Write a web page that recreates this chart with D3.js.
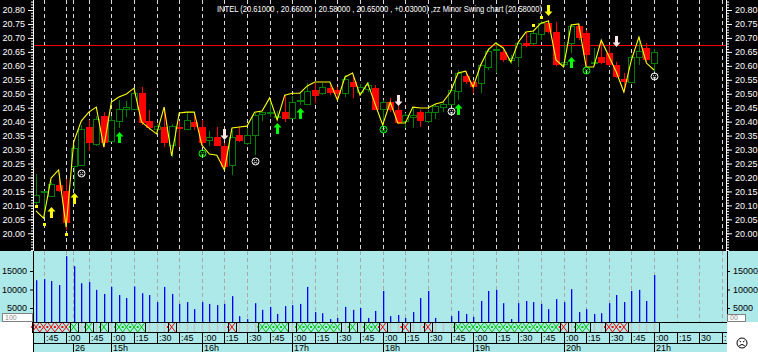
<!DOCTYPE html>
<html lang="en">
<head>
<meta charset="UTF-8">
<title>INTEL zz Minor Swing chart</title>
<script src="https://cdn.jsdelivr.net/npm/d3@7"></script>
<style>
  body { margin: 0; background: #fff; }
  svg { display: block; font-family: "Liberation Sans", Arial, sans-serif; }
</style>
</head>
<body>
<div id="chart"></div>
<script>
// ---- data (5 minute bars) ----
const opens = [20.113,20.148,20.133,20.173,20.151,20.241,20.244,20.381,20.320,20.420,
  20.330,20.402,20.445,20.445,20.502,20.402,20.373,20.381,20.316,20.381,
  20.373,20.399,20.381,20.334,20.345,20.312,20.244,20.352,20.323,20.352,
  20.427,20.431,20.416,20.434,20.413,20.473,20.463,20.513,20.502,20.520,
  20.513,20.502,20.542,20.506,20.517,20.520,20.445,20.470,20.442,20.402,
  20.416,20.434,20.402,20.434,20.452,20.463,20.509,20.563,20.542,20.538,
  20.596,20.657,20.649,20.621,20.632,20.682,20.682,20.714,20.753,20.721,
  20.606,20.682,20.743,20.718,20.610,20.632,20.646,20.603,20.553,20.542,
  20.632,20.664,20.61];
const highs = [20.212,20.150,20.183,20.216,20.194,20.316,20.388,20.406,20.420,20.434,
  20.420,20.477,20.474,20.520,20.524,20.442,20.391,20.452,20.391,20.402,
  20.434,20.431,20.406,20.366,20.381,20.323,20.370,20.381,20.377,20.431,
  20.434,20.481,20.438,20.495,20.492,20.502,20.538,20.538,20.538,20.531,
  20.524,20.567,20.560,20.535,20.542,20.531,20.477,20.485,20.456,20.431,
  20.452,20.442,20.442,20.463,20.470,20.520,20.585,20.581,20.549,20.610,
  20.664,20.685,20.657,20.639,20.685,20.721,20.725,20.761,20.764,20.757,
  20.685,20.750,20.750,20.728,20.664,20.692,20.675,20.614,20.574,20.639,
  20.703,20.682,20.66];
const lows = [20.101,20.058,20.130,20.149,20.012,20.155,20.241,20.295,20.313,20.309,
  20.330,20.377,20.416,20.442,20.388,20.370,20.366,20.309,20.273,20.309,
  20.370,20.370,20.312,20.312,20.312,20.227,20.209,20.327,20.316,20.280,
  20.402,20.416,20.406,20.399,20.413,20.459,20.459,20.466,20.495,20.495,
  20.477,20.488,20.484,20.495,20.506,20.442,20.388,20.434,20.391,20.377,
  20.377,20.381,20.395,20.409,20.434,20.459,20.477,20.535,20.502,20.502,
  20.585,20.574,20.614,20.606,20.596,20.667,20.675,20.692,20.718,20.599,
  20.596,20.646,20.692,20.596,20.603,20.606,20.599,20.556,20.506,20.538,
  20.603,20.614,20.58];
const closes = [20.137,20.150,20.176,20.151,20.037,20.305,20.373,20.323,20.409,20.323,
  20.406,20.445,20.452,20.502,20.395,20.377,20.384,20.323,20.384,20.373,
  20.406,20.381,20.323,20.345,20.312,20.237,20.345,20.331,20.352,20.424,
  20.434,20.434,20.420,20.409,20.470,20.477,20.509,20.492,20.524,20.502,
  20.499,20.553,20.524,20.524,20.531,20.442,20.470,20.442,20.395,20.424,
  20.424,20.402,20.434,20.456,20.463,20.513,20.574,20.542,20.524,20.603,
  20.653,20.660,20.621,20.628,20.682,20.671,20.718,20.753,20.721,20.603,
  20.614,20.743,20.700,20.639,20.614,20.610,20.603,20.560,20.542,20.632,
  20.653,20.621,20.65];
const volumes = [12500,12800,12300,11200,19000,16300,11700,12000,9900,8800,
  10700,8500,7700,10800,9000,8500,6600,10700,8800,6100,
  6600,4700,6600,6100,5800,6100,8200,2800,2000,6300,
  4500,5300,3400,5500,5800,6100,10700,3900,3600,2000,
  2300,5300,4500,5000,2300,4200,9600,2800,3100,2300,
  3900,7700,9600,2300,0,2800,4200,3400,2600,6900,
  9600,9900,6300,2000,6300,6900,6600,6100,4700,7400,
  6600,10100,3900,4700,3400,3600,6300,8500,6600,9600,
  9900,6900,13900];
// zz minor swing line, one value per bar
const zigzag = [20.080,20.054,20.198,20.227,20.022,20.327,20.402,20.434,20.452,20.309,
  20.470,20.488,20.499,20.520,20.399,20.377,20.356,20.452,20.277,20.431,
  20.434,20.434,20.316,20.284,20.280,20.227,20.377,20.381,20.384,20.434,
  20.438,20.485,20.406,20.495,20.502,20.502,20.528,20.542,20.542,20.542,
  20.477,20.560,20.574,20.495,20.538,20.463,20.388,20.470,20.395,20.395,
  20.452,20.449,20.449,20.463,20.470,20.506,20.574,20.581,20.524,20.603,
  20.657,20.682,20.664,20.614,20.685,20.721,20.725,20.753,20.761,20.621,
  20.596,20.746,20.750,20.596,20.596,20.692,20.635,20.578,20.506,20.621,
  20.703,20.610,20.585];
const refLevel = 20.675;

// markers: [bar, price]
const swingDots = [[0, 20.097], [1, 20.033], [4, 19.997], [66, 20.746], [67, 20.775]];
const yellowUp = [[2, 20.094], [5, 20.144]];
const greenUp = [[11, 20.363], [32, 20.395], [35, 20.449], [56, 20.463], [71, 20.632]];
const yellowDown = [[68, 20.779]];
const whiteDown = [[25, 20.334], [48, 20.456], [77, 20.667]];
const whiteFaces = [[6, 20.216], [29, 20.259], [55, 20.438], [82, 20.563]];
const greenFaces = [[22, 20.287], [46, 20.373], [73, 20.585]];

// pattern strip: [first bar, last bar, colour]
const stripGroups = [[0,4,"r"],[5,5,"g"],[7,7,"g"],[9,9,"g"],[11,14,"g"],[18,18,"r"],[26,26,"r"],
  [30,33,"g"],[35,40,"g"],[42,42,"g"],[44,45,"g"],[46,46,"r"],[49,49,"r"],[52,52,"r"],
  [56,69,"g"],[70,70,"r"],[72,73,"g"],[76,78,"r"]];

const priceTicks = [20.00,20.05,20.10,20.15,20.20,20.25,20.30,20.35,20.40,20.45,20.50,20.55,20.60,20.65,20.70,20.75,20.80];
const volTicks = [5000, 10000, 15000];
const timeLabels = [":45",":00",":45",":00",":15",":30",":45",":00",":15",":30",":45",":00",":15",":30",":45",
  ":00",":15",":30",":45",":00",":15",":30",":45",":00",":15",":30",":45",":00",":15","30",":"];
const dayLabels = ["26","15h","16h","17h","18h","19h","20h","21h"];
const dayBars = [4.9, 10, 22, 34, 46, 58, 70, 82];
const title = "INTEL (20.61000 , 20.66000 , 20.58000 , 20.65000 , +0.03000) ,zz Minor Swing chart (20.58000)";

// ---- layout ----
const width = 758, height = 352;
const X0 = 33, X1 = 726, MAIN_B = 251, VOL_B = 322, STRIP_B = 332, ROW_B = 343;
const CYAN = "#aee9e9";

const x = d3.scaleLinear().domain([0, 82]).range([36, 654]);
const y = d3.scaleLinear().domain([20.0, 20.8]).range([233.3, 10]);
const yv = d3.scaleLinear().domain([0, 15000]).range([326.5, 271]);
const bw = x(1) - x(0);
const timeBars = d3.range(1, 92, 3);
const gridBars = timeBars.concat([dayBars[0]]);

const bars = opens.map((o, i) => ({i, o, h: highs[i], l: lows[i], c: closes[i], v: volumes[i]}));

const svg = d3.select("#chart").append("svg")
    .attr("width", width)
    .attr("height", height)
    .attr("viewBox", [0, 0, width, height]);

const defs = svg.append("defs");
defs.append("clipPath").attr("id", "clipMain")
    .append("rect").attr("x", X0 + 1).attr("y", 0).attr("width", X1 - X0 - 1).attr("height", MAIN_B);
defs.append("clipPath").attr("id", "clipVol")
    .append("rect").attr("x", X0 + 1).attr("y", MAIN_B).attr("width", X1 - X0).attr("height", VOL_B - MAIN_B);

// backgrounds
svg.append("rect").attr("width", width).attr("height", MAIN_B).attr("fill", "#000");
svg.append("rect").attr("y", MAIN_B).attr("width", width).attr("height", VOL_B - MAIN_B).attr("fill", CYAN);
svg.append("rect").attr("x", X0).attr("y", VOL_B).attr("width", X1 + 1 - X0).attr("height", height - VOL_B).attr("fill", CYAN);
svg.append("rect").attr("x", 0).attr("y", VOL_B).attr("width", X0).attr("height", height - VOL_B).attr("fill", "#fff");
svg.append("rect").attr("x", X1 + 1).attr("y", VOL_B).attr("width", width - X1 - 1).attr("height", height - VOL_B).attr("fill", "#fff");

// grid
svg.append("g")
    .selectAll("line")
    .data(gridBars)
    .join("line")
    .attr("x1", d => Math.round(x(d)) + 0.5).attr("x2", d => Math.round(x(d)) + 0.5)
    .attr("y1", 0).attr("y2", MAIN_B)
    .attr("stroke", "#d8d8d8").attr("stroke-dasharray", "4,3");
svg.append("g")
    .selectAll("line")
    .data(gridBars)
    .join("line")
    .attr("x1", d => Math.round(x(d)) + 0.5).attr("x2", d => Math.round(x(d)) + 0.5)
    .attr("y1", MAIN_B).attr("y2", VOL_B)
    .attr("stroke", "#a9a9a9").attr("stroke-dasharray", "4,3");

// reference level
svg.append("line")
    .attr("x1", X0).attr("x2", X1)
    .attr("y1", Math.round(y(refLevel)) + 0.5).attr("y2", Math.round(y(refLevel)) + 0.5)
    .attr("stroke", "#ff0000");

// candles
const main = svg.append("g").attr("clip-path", "url(#clipMain)");
const candle = main.append("g")
    .selectAll("g")
    .data(bars)
    .join("g");
candle.append("line")
    .attr("x1", d => Math.round(x(d.i)) + 0.5).attr("x2", d => Math.round(x(d.i)) + 0.5)
    .attr("y1", d => y(d.h)).attr("y2", d => y(d.l))
    .attr("stroke", d => d.c >= d.o ? "#008000" : "#ff0000");
candle.filter(d => d.c < d.o).append("rect")
    .attr("x", d => Math.round(x(d.i)) - 3)
    .attr("width", 7)
    .attr("y", d => Math.round(y(d.o)))
    .attr("height", d => Math.max(1, Math.round(y(d.c)) - Math.round(y(d.o))))
    .attr("fill", "#ff0000");
candle.filter(d => d.c >= d.o).append("rect")
    .attr("x", d => Math.round(x(d.i)) - 2.5)
    .attr("width", 6)
    .attr("y", d => Math.round(y(d.c)) + 0.5)
    .attr("height", d => Math.max(1, Math.round(y(d.o)) - Math.round(y(d.c))))
    .attr("fill", "#000")
    .attr("stroke", "#008000");

// swing line
main.append("path")
    .datum(zigzag)
    .attr("fill", "none")
    .attr("stroke", "#ffff00")
    .attr("stroke-width", 1.1)
    .attr("d", d3.line().x((d, i) => x(i)).y(d => y(d)));

// markers
const marks = main.append("g");
marks.selectAll(".dot")
    .data(swingDots)
    .join("rect")
    .attr("x", d => Math.round(x(d[0])) - 1)
    .attr("y", d => Math.round(y(d[1])) - 1)
    .attr("width", 3).attr("height", 3)
    .attr("fill", "#ffff00");

function arrowPath(cx, ty, dir) {
    const s = dir;       // 1 = up (tip on top), -1 = down
    return `M${cx},${ty}L${cx + 4},${ty + 4.5 * s}L${cx + 1.5},${ty + 4.5 * s}L${cx + 1.5},${ty + 11 * s}` +
        `L${cx - 1.5},${ty + 11 * s}L${cx - 1.5},${ty + 4.5 * s}L${cx - 4},${ty + 4.5 * s}Z`;
}
[[yellowUp, 1, "#ffff00"], [greenUp, 1, "#00ff00"], [yellowDown, -1, "#ffff00"], [whiteDown, -1, "#ffe6e6"]]
    .forEach(([list, dir, col]) => {
        marks.append("g")
            .selectAll("path")
            .data(list)
            .join("path")
            .attr("d", d => arrowPath(Math.round(x(d[0])) + 0.5, Math.round(y(d[1])), dir))
            .attr("fill", col);
    });

function drawFaces(list, col) {
    const f = marks.append("g")
        .selectAll("g")
        .data(list)
        .join("g")
        .attr("transform", d => `translate(${Math.round(x(d[0])) + 0.5},${Math.round(y(d[1])) + 0.5})`);
    f.append("circle").attr("r", 3.5).attr("fill", "none").attr("stroke", col);
    f.append("path").attr("d", "M-1.8,-1.5L-0.6,-0.5M1.8,-1.5L0.6,-0.5M-2,1.8Q0,0 2,1.8")
        .attr("fill", "none").attr("stroke", col).attr("stroke-width", 0.9);
}
drawFaces(whiteFaces, "#ffffff");
drawFaces(greenFaces, "#00ff00");

// title
svg.append("text")
    .attr("x", 217).attr("y", 12)
    .attr("fill", "#fff")
    .attr("font-size", 9)
    .attr("textLength", 325)
    .attr("lengthAdjust", "spacingAndGlyphs")
    .text(title);

// price axes
const minorTicks = d3.range(1994, 2084).map(d => d / 100);
function priceAxis(axisFn, xpos) {
    const gMinor = svg.append("g").attr("transform", `translate(${xpos},0)`)
        .call(axisFn(y).tickValues(minorTicks).tickFormat("").tickSize(2));
    gMinor.select(".domain").remove();
    gMinor.selectAll("line").attr("stroke", "#fff");
    const g = svg.append("g").attr("transform", `translate(${xpos},0)`)
        .call(axisFn(y).tickValues(priceTicks).tickFormat(d3.format(".2f")).tickSize(5).tickPadding(3));
    g.select(".domain").remove();
    g.selectAll("line").attr("stroke", "#fff");
    g.selectAll("text").attr("fill", "#fff").attr("font-size", 9).attr("font-family", null);
}
priceAxis(d3.axisLeft, X0);
priceAxis(d3.axisRight, X1 + 1);
svg.append("line").attr("x1", X0 + 0.5).attr("x2", X0 + 0.5).attr("y1", 0).attr("y2", MAIN_B).attr("stroke", "#fff");
svg.append("line").attr("x1", X1 + 0.5).attr("x2", X1 + 0.5).attr("y1", 0).attr("y2", MAIN_B).attr("stroke", "#fff");

// volume
svg.append("g")
    .attr("clip-path", "url(#clipVol)")
    .selectAll("rect")
    .data(bars.filter(d => d.v > 0))
    .join("rect")
    .attr("x", d => Math.round(x(d.i)))
    .attr("width", 1.3)
    .attr("y", d => yv(d.v))
    .attr("height", d => yv(0) - yv(d.v))
    .attr("fill", "#0000ff");

function volAxis(axisFn, xpos) {
    const g = svg.append("g").attr("transform", `translate(${xpos},0)`)
        .call(axisFn(yv).tickValues(volTicks).tickFormat(d3.format("d")).tickSize(3).tickPadding(3));
    g.select(".domain").remove();
    g.selectAll("line").attr("stroke", "#000");
    g.selectAll("text").attr("fill", "#000").attr("font-size", 9).attr("font-family", null);
}
volAxis(d3.axisLeft, X0);
volAxis(d3.axisRight, X1 + 1);
svg.append("line").attr("x1", X0 + 0.5).attr("x2", X0 + 0.5).attr("y1", MAIN_B).attr("y2", height).attr("stroke", "#000");
svg.append("line").attr("x1", X1 + 1.5).attr("x2", X1 + 1.5).attr("y1", MAIN_B).attr("y2", VOL_B).attr("stroke", "#000");

// scale boxes
[[2, 313, 30, "100"], [X1 + 1, 314, 18, "00"]].forEach(([bx, by, bwid, t]) => {
    svg.append("rect").attr("x", bx + 0.5).attr("y", by + 0.5).attr("width", bwid).attr("height", VOL_B - by - 1)
        .attr("fill", "#fff").attr("stroke", "#808080");
    svg.append("text").attr("x", bx + 3).attr("y", VOL_B - 2).attr("font-size", 7).attr("fill", "#888").text(t);
});

// pattern strip
const strip = svg.append("g");
const stripEnd = 83;
const grouped = new Set();
stripGroups.forEach(([a, b]) => d3.range(a, b + 1).forEach(i => grouped.add(i)));
strip.selectAll("line.cell")
    .data(d3.range(0, stripEnd).filter(i => !grouped.has(i)))
    .join("line")
    .attr("x1", i => Math.round(x(i)) + 0.5).attr("x2", i => Math.round(x(i)) + 0.5)
    .attr("y1", VOL_B).attr("y2", STRIP_B)
    .attr("stroke", "#c4c4c4").attr("stroke-width", 1.5);
stripGroups.forEach(([a, b, c]) => {
    const col = c === "r" ? "#ff0000" : "#00c800";
    const g = strip.append("g");
    d3.range(a, b + 1).forEach(i => {
        const l = x(i) - bw / 2, r = x(i) + bw / 2;
        g.append("path")
            .attr("d", `M${l},${VOL_B}L${r},${STRIP_B}M${l},${STRIP_B}L${r},${VOL_B}`)
            .attr("stroke", col).attr("fill", "none");
        g.append("rect").attr("x", l - 1).attr("y", (VOL_B + STRIP_B) / 2 - 1).attr("width", 2).attr("height", 2).attr("fill", col);
    });
    g.append("rect")
        .attr("x", Math.round(x(a) - bw / 2) + 0.5).attr("y", VOL_B + 0.5)
        .attr("width", Math.round(x(b) - x(a) + bw)).attr("height", STRIP_B - VOL_B)
        .attr("fill", "none").attr("stroke", "#000");
});
strip.append("line")
    .attr("x1", Math.round(x(stripEnd - 0.4)) + 0.5).attr("x2", Math.round(x(stripEnd - 0.4)) + 0.5)
    .attr("y1", VOL_B).attr("y2", STRIP_B).attr("stroke", "#000");
[VOL_B, STRIP_B, ROW_B].forEach(yy => {
    svg.append("line").attr("x1", X0).attr("x2", X1 + 1)
        .attr("y1", yy + 0.5).attr("y2", yy + 0.5).attr("stroke", "#000");
});

// time axis
const tAxis = svg.append("g").attr("font-size", 9).attr("fill", "#000");
tAxis.selectAll("line.t")
    .data(timeBars)
    .join("line")
    .attr("x1", d => Math.round(x(d)) + 0.5).attr("x2", d => Math.round(x(d)) + 0.5)
    .attr("y1", STRIP_B).attr("y2", ROW_B)
    .attr("stroke", "#000");
tAxis.selectAll("text.t")
    .data(timeBars)
    .join("text")
    .attr("x", d => Math.round(x(d)) + 2)
    .attr("y", ROW_B - 2)
    .text((d, i) => timeLabels[i]);
const dAxis = svg.append("g").attr("font-size", 9).attr("fill", "#000");
dAxis.selectAll("line")
    .data(dayBars)
    .join("line")
    .attr("x1", d => Math.round(x(d)) + 0.5).attr("x2", d => Math.round(x(d)) + 0.5)
    .attr("y1", ROW_B).attr("y2", height)
    .attr("stroke", "#000");
dAxis.selectAll("text")
    .data(dayBars)
    .join("text")
    .attr("x", d => Math.round(x(d)) + 2)
    .attr("y", height - 1)
    .text((d, i) => dayLabels[i]);

// status face
const sf = svg.append("g").attr("transform", "translate(742,343)");
sf.append("circle").attr("r", 5).attr("fill", "none").attr("stroke", "#000");
sf.append("path").attr("d", "M-2.5,-2L-1,-1M2.5,-2L1,-1M-2.8,2.8Q0,0 2.8,2.8")
    .attr("fill", "none").attr("stroke", "#000");
</script>
</body>
</html>
